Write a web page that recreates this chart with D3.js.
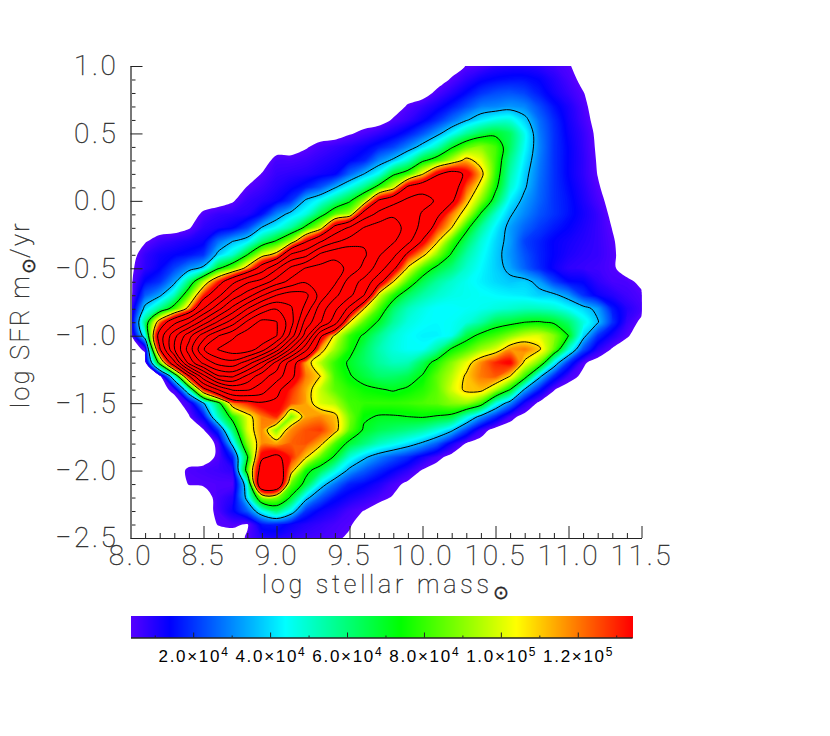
<!DOCTYPE html>
<html><head><meta charset="utf-8">
<script src="https://cdn.jsdelivr.net/npm/d3@7"></script>
<style>
html,body{margin:0;padding:0;background:#fff}
svg{display:block}
.big{font-family:Roboto,"Liberation Sans",sans-serif;font-weight:100;fill:#222;stroke:#333;stroke-width:.35px}
.cb{font-family:"Liberation Sans",sans-serif;fill:#000}
</style></head><body>
<svg id="c" width="830" height="736"></svg>
<script>
// Mass bins (log stellar mass) and SFR bins (log SFR) of the density grid
const massBins=[8.0,8.1,8.2,8.3,8.4,8.5,8.6,8.7,8.8,8.9,9.0,9.1,9.2,9.3,9.4,9.5,9.6,9.7,9.8,9.9,10.0,10.1,10.2,10.3,10.4,10.5,10.6,10.7,10.8,10.9,11.0,11.1,11.2,11.3,11.4,11.5];
const sfrBins=[1.0,0.9,0.8,0.7,0.6,0.5,0.4,0.3,0.2,0.1,0.0,-0.1,-0.2,-0.3,-0.4,-0.5,-0.6,-0.7,-0.8,-0.9,-1.0,-1.1,-1.2,-1.3,-1.4,-1.5,-1.6,-1.7,-1.8,-1.9,-2.0,-2.1,-2.2,-2.3,-2.4,-2.5];
// Density per cell, in units of 10^4; one row per SFR bin
const densityRows=[
[0,0,0,0,0,0,0,0,0,0, 0,0,0,0,0,0,0,0,0,0, 0,0,0,.4,.6,.9,1,1,.9,.7, .45,0,0,0,0,0],
[0,0,0,0,0,0,0,0,0,0, 0,0,0,0,0,0,0,0,0,0, 0,0,.45,.9,1.3,1.5,1.6,1.6,1.4,1, .6,.2,0,0,0,0],
[0,0,0,0,0,0,0,0,0,0, 0,0,0,0,0,0,0,0,0,0, 0,.55,1,1.5,2,2.3,2.4,2.2,1.7,1.2, .8,.4,0,0,0,0],
[0,0,0,0,0,0,0,0,0,0, 0,0,0,0,0,0,0,0,0,.45, .8,1.2,1.7,2.3,2.9,3,3.2,3,2.3,1.6, 1.1,.55,0,0,0,0],
[0,0,0,0,0,0,0,0,0,0, 0,0,0,0,0,0,0,0,.45,.8, 1.3,1.9,2.7,3.5,4.2,4.7,4.8,3.9,2.7,1.9, 1.2,.65,.1,0,0,0],
[0,0,0,0,0,0,0,0,0,0, 0,0,0,0,0,.3,.55,.85,1.2,1.7, 2.4,3.3,4.4,5.6,6.5,6.9,6.3,4.6,2.9,2,  1.3,.8,.2,0,0,0],
[0,0,0,0,0,0,0,0,0,0, 0,0,.3,.6,.8,1,1.3,1.7,2.2,3, 4,5.2,7,8.4,9,8.2,6.3,4.5,3,2, 1.4,.85,.25,0,0,0],
[0,0,0,0,0,0,0,0,0,0, .6,.6,.7,.9,1.1,1.4,1.8,3,3.8,5, 6.9,8,9.6,11.3,10.2,8.2,5.8,4.2,2.9,2, 1.4,.9,.3,0,0,0],
[0,0,0,0,0,0,0,0,0,.4, .8,.9,1,1.2,1.4,2.6,3.6,4.6,6.9,8, 10.6,14,15.5,14,11.3,8,5.4,3.9,2.8,2, 1.4,.9,.35,0,0,0],
[0,0,0,0,0,0,0,0,.4,.7, 1,1.3,1.7,2.4,3.5,4.6,5.8,7.8,10,15, 16.5,17.5,16,12.5,10.2,7.5,5,3.7,2.7,2, 1.5,1,.45,0,0,0],
[0,0,0,0,0,0,0,.3,.8,1, 1.3,2,3.8,4.6,5.8,7,9.3,14.8,16.8,18.8, 19.5,17.5,14.8,11.3,9,6.5,4.3,3.3,2.6,2, 1.6,1.1,.6,.1,0,0],
[0,0,0,0,0,.5,.8,.9,1,1.6, 3,4,4.8,6.6,8.5,9.5,16,19,21,21, 17.5,15,12,10,7,5,3.7,3,2.4,2, 1.6,1.2,.8,.2,0,0],
[0,0,0,0,.3,.9,1.1,1.4,2.2,3.7, 4.5,5.6,7.6,9.9,15.5,18.5,21.8,23.5,23.5,20, 17,13,10.8,7.6,5.6,4.3,3.3,2.6,2.1,1.7, 1.4,1.1,.8,.35,0,0],
[0,.3,.7,.9,1.1,1.3,2.7,3.6,4.2,6, 7.4,9.5,14,17.6,21,23,24.6,24.5,22,19, 14,11,8.2,6.3,4.9,4,3.3,2.2,1.8,1.4, 1.2,1,.8,.45,0,0],
[0,.8,1.2,1.4,1.6,2,3.9,5,7.2,10, 11.5,18.5,20.5,26,28,28.6,25.8,22,19,13.5, 11.2,9,7,5.5,4.6,3.9,3.2,2.4,1.8,1.4, 1.1,.9,.8,.5,0,0],
[.2,.9,1.4,2.2,3.1,3.9,7,8.6,11.5,16, 21,26,29,30,30,28,24,20,15,10.5, 8.2,6.8,6,5,4.4,3.9,3.4,2.6,1.9,1.3, .9,.8,.7,.5,0,0],
[.2,1.5,2,3.3,6,9.5,13,17,21,23, 27,30,32,32,29.5,23.5,20.5,15.5,10.8,8.2, 6.5,5.6,5,4.6,4.3,4,3.8,3.9,3.3,2.2, 1.5,1.4,.9,.6,.55,.2],
[.1,2.5,3.4,5.2,8.5,13,17,23,27,32, 36,38,37,31,26,22.5,18,10,7.8,6.3, 5.5,5,4.7,4.6,4.5,4.4,4.3,4.2,3.9,3.8, 3.2,2,1.3,1,.7,.5],
[.5,4,5.8,8,11.5,18,24,30,36,41, 43,40,35,27,22.5,17,10.8,8.3,6.2,5.2, 4.7,4.4,4.4,4.5,4.6,4.8,5,5.2,5.2,5, 4.5,4,3.3,1.7,1,.6],
[.5,6,12,17,21,27,33,38,44,48, 47,41,31,25.5,19.5,10.8,8.4,7,5.6,4.8, 4.5,4.4,4.5,4.8,5.5,6.5,6.8,7.2,7.3,7, 6.2,4.8,3.7,2,.8,.2],
[0,4.5,16,24,31,38,43,46,49,50, 47,38,27,15,10.4,8,7,5.8,4.9,4.5, 4.3,4.3,4.6,6.6,7.6,8.2,9,9.8,10,9, 7.2,4,2,1.1,.45,0],
[0,.5,14,25,34,43,47,49,49,45, 38,28,19,11.5,9.3,7.6,6.4,5.4,4.8,4.5, 4.5,5.5,7.4,8.2,9.2,10,11.6,12,11,8.6, 5,2.4,1,.3,0,0],
[0,0,8,17,30,37,41,42,38,32, 24,16,11.5,9.6,8,7,6.3,5.6,5.2,5.3, 6.4,7.8,9,10.2,11.8,13,13.6,10.5,8.7,4.4, 2,.5,0,0,0,0],
[0,0,0,5,14,24,32,33,28,23, 20,15,12,10.8,8.2,7.3,6.7,6.2,6.2,6.5, 7.3,8.5,9.6,11,12,12.4,10.8,8,3.9,1.9, .7,.2,0,0,0,0],
[0,0,0,.6,5,13,18,22,22,20, 15,13,11.5,9.8,8.5,7.9,7.5,7.3,7.1,7.4, 7.8,8.5,9.9,11.1,11.2,9.5,7.2,3.4,1.7,.4, 0,0,0,0,0,0],
[0,0,0,0,.8,3.5,6.5,12,13,14, 14,12.5,11.5,10,9.5,8.2,8,8,8,8.1, 8.3,8.5,9,9.2,8,4.8,3,1.1,.2,0, 0,0,0,0,0,0],
[0,0,0,0,.3,1.5,5.2,7.8,10.2,12, 13,8.8,11.5,11.8,11.2,8.8,7.4,7.1,7.1,7.2, 7.3,7.1,6.8,4.9,3.2,1.9,.6,.1,0,0, 0,0,0,0,0,0],
[0,0,0,0,0,.3,2,6,10,11.8, 9,11.8,12.5,12.8,11.4,8.5,7,6.5,6.2,5.9, 5.5,4.8,3.8,2.2,.8,0,0,0,0,0, 0,0,0,0,0,0],
[0,0,0,0,0,0,.5,4,9,11.8, 11.5,12.3,12.5,11.3,8.3,6.8,6,5.2,4.7,4.1, 3.4,2.5,1.2,.3,0,0,0,0,0,0, 0,0,0,0,0,0],
[0,0,0,0,0,0,.5,1.8,7,14, 15,13,11,8.5,7,4.9,3.8,3,2.4,1.9, 1.2,.6,.1,0,0,0,0,0,0,0, 0,0,0,0,0,0],
[0,0,0,0,.5,.6,.7,.9,8,16, 17,11.5,7.6,6.5,4.8,3.3,2.5,1.9,1.4,.9, .3,0,0,0,0,0,0,0,0,0, 0,0,0,0,0,0],
[0,0,0,0,.4,.45,.5,.5,4.5,18, 18,8.5,6.8,4.2,2.8,1.8,1.5,1.1,.6,.2, 0,0,0,0,0,0,0,0,0,0, 0,0,0,0,0,0],
[0,0,0,0,0,0,.6,1,4,9, 9,7,4,2.5,1.6,1.2,.9,.6,.3,0, 0,0,0,0,0,0,0,0,0,0, 0,0,0,0,0,0],
[0,0,0,0,0,0,.55,1.3,2.5,4.5, 6,4.3,2,1.3,1,.6,.35,0,0,0, 0,0,0,0,0,0,0,0,0,0, 0,0,0,0,0,0],
[0,0,0,0,0,0,.4,.5,.3,1.6, 1.7,1.3,1,.8,.6,.45,0,0,0,0, 0,0,0,0,0,0,0,0,0,0, 0,0,0,0,0,0],
[0,0,0,0,0,0,0,0,.45,1, 1.1,.9,.7,.6,.5,.25,0,0,0,0, 0,0,0,0,0,0,0,0,0,0, 0,0,0,0,0,0]
];
const xMajorTicks=[8.0,8.5,9.0,9.5,10.0,10.5,11.0,11.5];
const yMajorTicks=[1.0,0.5,0.0,-0.5,-1.0,-1.5,-2.0,-2.5];
const barMajorTicks=[2,4,6,8,10,12];
const barMinorTicks=[1,3,5,7,9,11,13];
const barLabels=[["2.0","4"],["4.0","4"],["6.0","4"],["8.0","4"],["1.0","5"],["1.2","5"]];
const contourLevels=[3.6,7.2,10.8,14.4,18,21.6,25.2,28.8,32.4,36,39.6,43.2,46.8];
const rampStops=[0.37,1.4,4.4,7.4,10.4,13.41];
const rampColors=["#5700ff","#0000ff","#00ffff","#00ff00","#ffff00","#ff0000"];

const svg=d3.select("#c");
const x=d3.scaleLinear().domain([8,11.5]).range([130.5,641.5]);
const y=d3.scaleLinear().domain([1,-2.5]).range([66,538]);
const color=d3.scaleLinear().domain(rampStops).range(rampColors).clamp(true);
const barX=d3.scaleLinear().domain([rampStops[0],rampStops[5]]).range([130.5,632]);
const gx=d3.scaleLinear().domain([0.5,massBins.length-0.5]).range([x(massBins[0]),x(massBins[35])]);
const gy=d3.scaleLinear().domain([0.5,sfrBins.length-0.5]).range([y(sfrBins[0]),y(sfrBins[35])]);
const ringLine=d3.line().x(p=>gx(p[0])).y(p=>gy(p[1])).curve(d3.curveCatmullRomClosed.alpha(0.5));
const toPath=m=>m.coordinates.map(poly=>poly.map(r=>ringLine(r.slice(0,-1))).join("")).join("");
svg.append("clipPath").attr("id","pl").append("rect").attr("x",x(8)).attr("y",y(1)).attr("width",x(11.5)-x(8)).attr("height",y(-2.5)-y(1));
const plot=svg.append("g").attr("clip-path","url(#pl)");
const flat=densityRows.flat();
const gen=d3.contours().size([massBins.length,sfrBins.length]);
const bands=d3.range(rampStops[0],rampStops[5]+0.001,0.06);
plot.append("g").selectAll("path").data(bands.map(t=>gen.contour(flat,t))).join("path")
  .attr("d",toPath).attr("fill",d=>color(d.value)).attr("fill-rule","evenodd");
plot.append("g").selectAll("path").data(contourLevels.map(t=>gen.contour(flat,t))).join("path")
  .attr("d",toPath).attr("fill","none").attr("stroke","#000").attr("stroke-width",1);

// axes
const fmt=d3.format(".1f");
function minorVals(a,b){return d3.range(Math.round((b-a)/0.1)+1).map(i=>+(a+i*0.1).toFixed(1)).filter(v=>Math.abs(v*2-Math.round(v*2))>1e-6);}
const gB=svg.append("g").attr("transform",`translate(0,${y(-2.5)})`);
gB.append("g").call(d3.axisBottom(x).tickValues(minorVals(8,11.5)).tickSize(-5).tickSizeOuter(0).tickFormat(""));
gB.append("g").attr("class","maj").call(d3.axisBottom(x).tickValues(xMajorTicks).tickSize(-12).tickSizeOuter(0).tickPadding(20).tickFormat(fmt));
const gL=svg.append("g").attr("transform",`translate(${x(8)},0)`);
gL.append("g").call(d3.axisLeft(y).tickValues(minorVals(-2.5,1)).tickSize(-5).tickSizeOuter(0).tickFormat(""));
gL.append("g").attr("class","maj").call(d3.axisLeft(y).tickValues(yMajorTicks).tickSize(-12).tickSizeOuter(0).tickPadding(12).tickFormat(fmt));
svg.selectAll(".tick line").attr("stroke","#222");
svg.selectAll(".domain").attr("stroke","#222");
gL.selectAll(".domain").attr("stroke","#777").attr("stroke-width",2);
svg.selectAll(".maj text").attr("class","big").attr("font-size",28).attr("letter-spacing",2.6);
gB.selectAll(".maj text").attr("dy","0.71em").attr("y",7);

// titles
function sun(t,parts){
  t.append("tspan").text(parts[0]);
  t.append("tspan").attr("dy",6).style("font-family","DejaVu Sans").style("font-weight",200).attr("font-size",19).attr("letter-spacing",0).text("\u2299");
  if(parts[1]) t.append("tspan").attr("dy",-6).text(parts[1]);
}
sun(svg.append("text").attr("class","big").attr("x",262).attr("y",593).attr("font-size",25).attr("letter-spacing",3.8),["log stellar mass"]);
sun(svg.append("text").attr("class","big").attr("transform","translate(29,408) rotate(-90)").attr("font-size",25).attr("letter-spacing",2.4),["log SFR m","/yr"]);

// colour bar
const barStops=d3.range(rampStops[0],rampStops[5],0.026);
svg.append("g").attr("shape-rendering","crispEdges").selectAll("rect").data(barStops).join("rect")
  .attr("x",d=>barX(d)).attr("y",616).attr("width",2).attr("height",22).attr("fill",d=>color(d));
const gC=svg.append("g").attr("transform","translate(0,637.5)");
gC.append("g").call(d3.axisBottom(barX).tickValues(barMinorTicks).tickSize(-2).tickSizeOuter(0).tickFormat(""));
gC.append("g").call(d3.axisBottom(barX).tickValues(barMajorTicks).tickSize(-5).tickSizeOuter(0).tickFormat(""));
gC.selectAll("path,line").attr("stroke","#222");
const lab=svg.append("g").selectAll("text").data(barMajorTicks).join("text").attr("class","cb")
  .attr("x",d=>barX(d)).attr("y",662).attr("text-anchor","middle").attr("font-size",17).attr("letter-spacing",1.7);
lab.append("tspan").text((d,i)=>barLabels[i][0]+"\u00d710");
lab.append("tspan").attr("dy",-6).attr("font-size",12).attr("letter-spacing",0).text((d,i)=>barLabels[i][1]);
</script></body></html>
